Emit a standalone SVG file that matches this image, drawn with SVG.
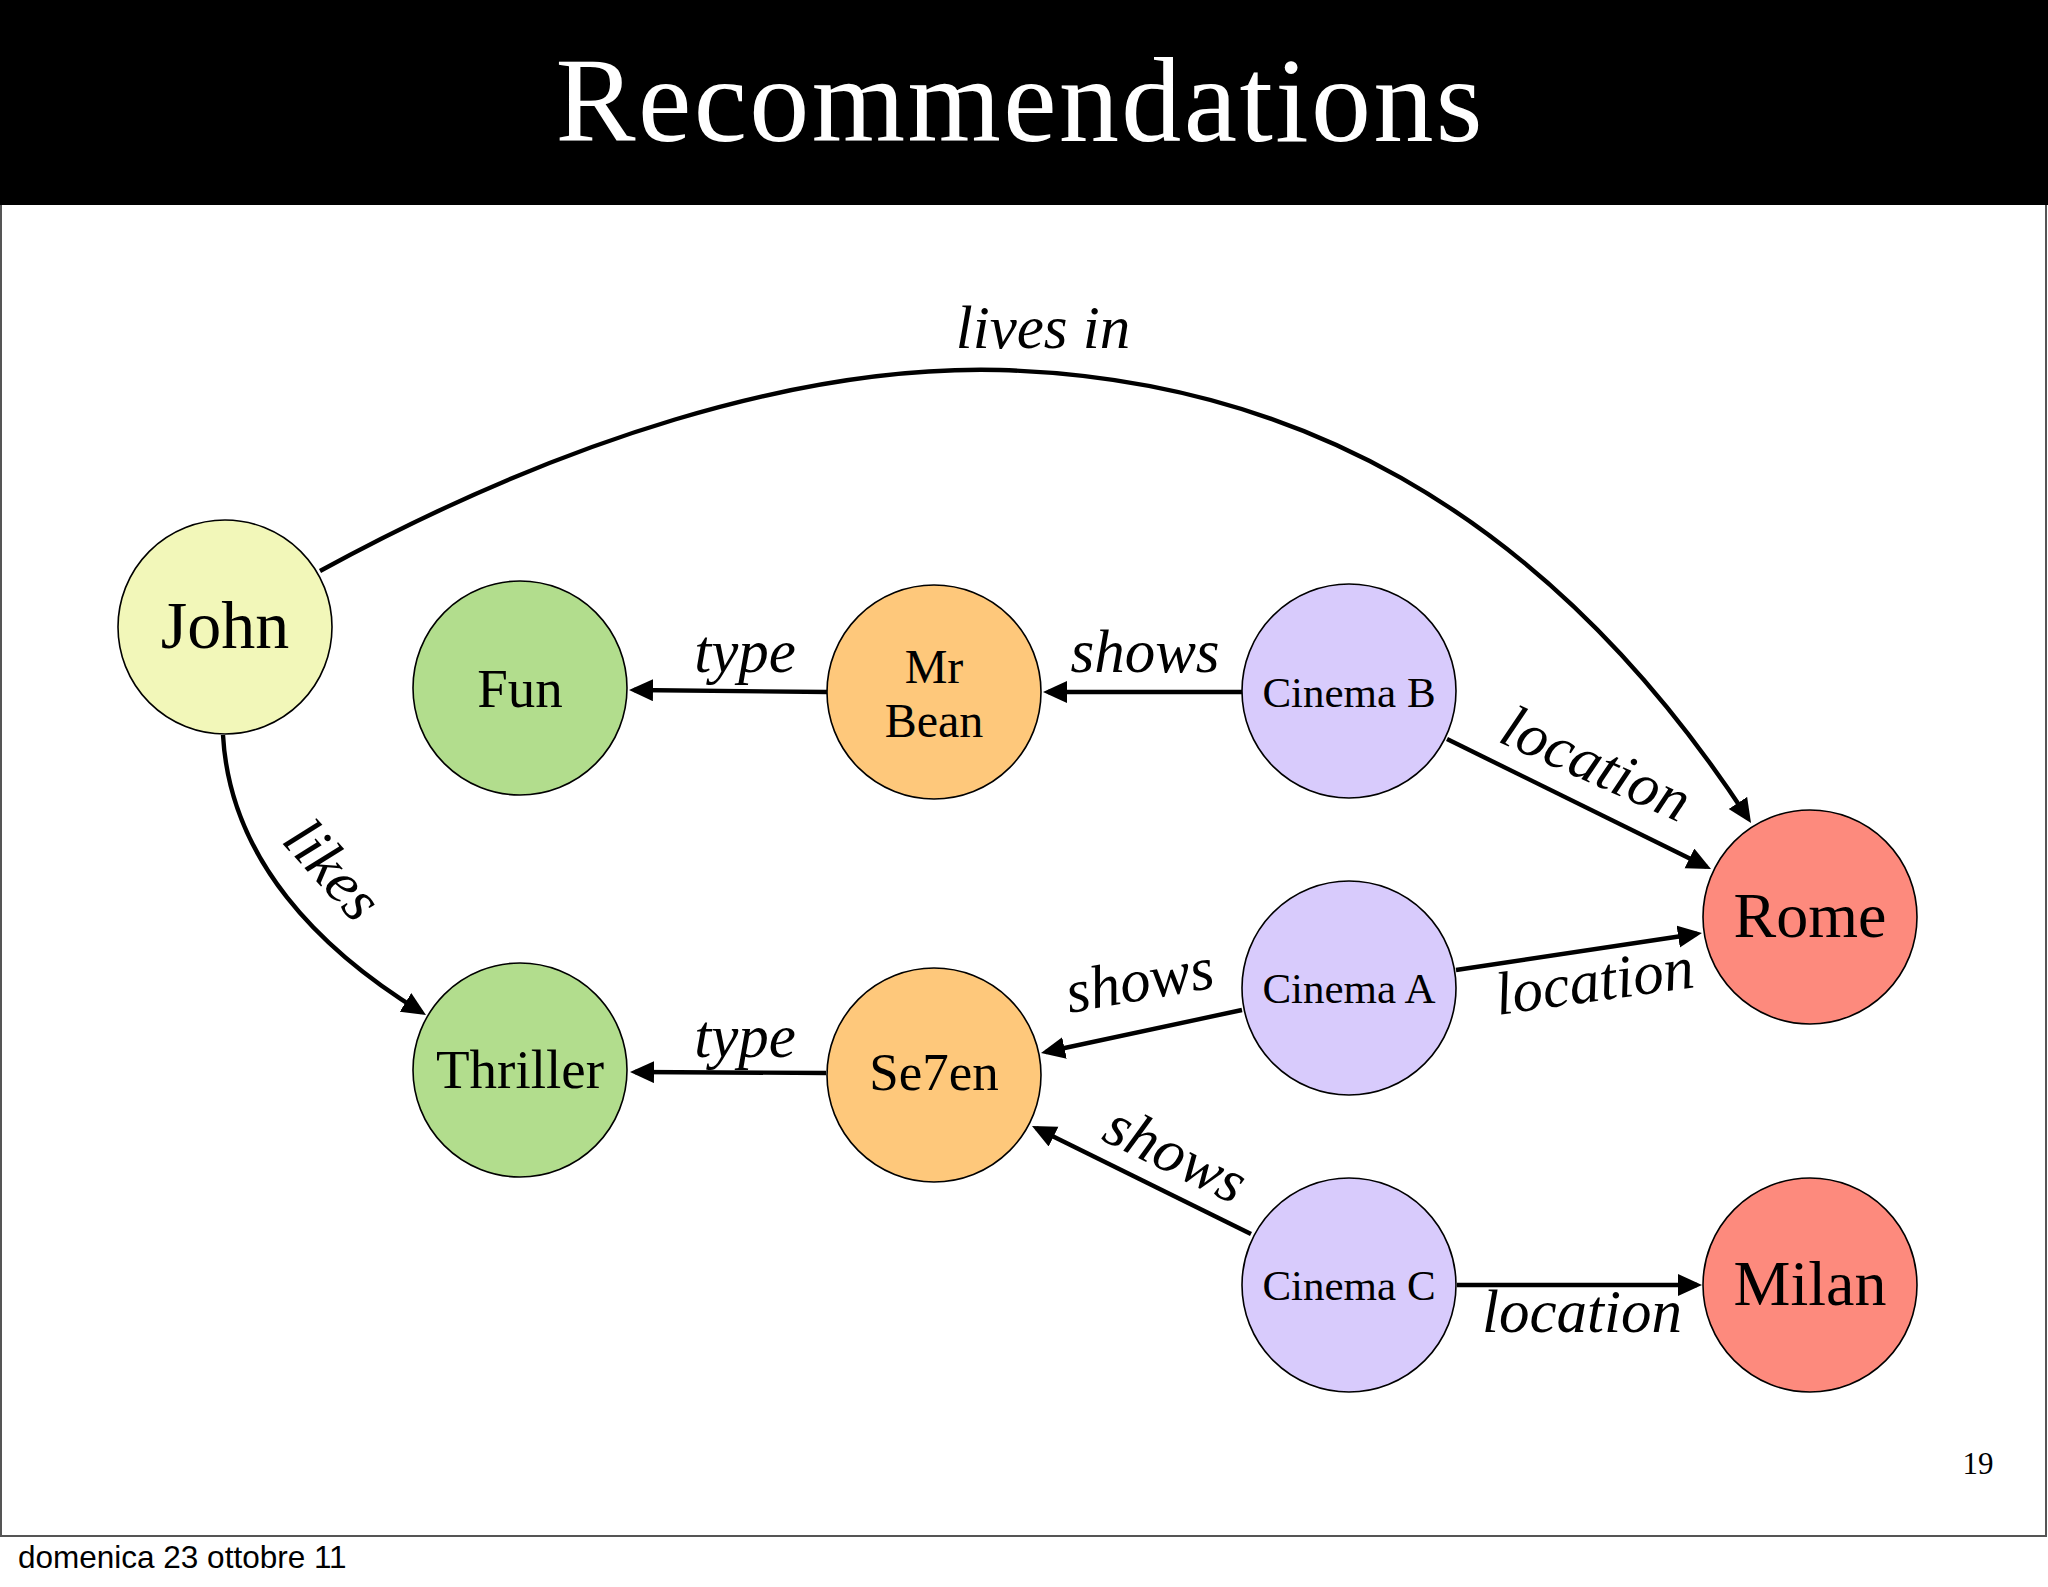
<svg xmlns="http://www.w3.org/2000/svg" width="2048" height="1587" viewBox="0 0 2048 1587">
  <style>
    .node { stroke: #000; stroke-width: 1.6; }
    .lbl { font-family: "Liberation Serif", "Times New Roman", serif; fill: #000; text-anchor: middle; }
    .elbl { font-family: "Liberation Serif", "Times New Roman", serif; font-style: italic; font-size: 61px; fill: #000; text-anchor: middle; }
    .edge { fill: none; stroke: #000; stroke-width: 4.4; }
    .yellow { fill: #f2f7b9; }
    .green { fill: #b2dd8d; }
    .orange { fill: #fec87b; }
    .lav { fill: #d8cbfc; }
    .red { fill: #fd8a7d; }
  </style>
  <defs>
    <marker id="arrow" markerUnits="userSpaceOnUse" markerWidth="26" markerHeight="24" refX="19" refY="11" orient="auto">
      <path d="M0,0 L24,11 L0,22 z" fill="#000"/>
    </marker>
  </defs>
  <rect x="0" y="0" width="2048" height="1587" fill="#fff"/>
  <rect x="1" y="1" width="2045" height="1535" fill="#fff" stroke="#555" stroke-width="2"/>
  <rect x="0" y="0" width="2048" height="205" fill="#000"/>
  <text x="1019" y="141" font-family="Liberation Serif, Times New Roman, serif" font-size="120" fill="#fff" text-anchor="middle" textLength="927" lengthAdjust="spacing">Recommendations</text>

  <g id="connectors">
    <path class="edge" d="M320,571 C560,440 800,365 1000,370 C1280,378 1540,500 1748.3,818.8" marker-end="url(#arrow)"/>
    <path class="edge" d="M223,735 C230,860 320,950 421.7,1012.4" marker-end="url(#arrow)"/>
    <path class="edge" d="M827,692 L634,690" marker-end="url(#arrow)"/>
    <path class="edge" d="M1242,692 L1048,692" marker-end="url(#arrow)"/>
    <path class="edge" d="M1447,739 L1706.5,866.8" marker-end="url(#arrow)"/>
    <path class="edge" d="M1456,970 L1697,933.7" marker-end="url(#arrow)"/>
    <path class="edge" d="M826,1073 L635,1072" marker-end="url(#arrow)"/>
    <path class="edge" d="M1242,1010 L1045.9,1052" marker-end="url(#arrow)"/>
    <path class="edge" d="M1251,1234 L1036.5,1128.2" marker-end="url(#arrow)"/>
    <path class="edge" d="M1457,1285 L1697,1285" marker-end="url(#arrow)"/>
    <text class="elbl" x="1043" y="348">lives in</text>
    <text class="elbl" transform="translate(318,883) rotate(48)">likes</text>
    <text class="elbl" x="745" y="672">type</text>
    <text class="elbl" x="1145" y="672">shows</text>
    <text class="elbl" transform="translate(1588,782) rotate(24)">location</text>
    <text class="elbl" transform="translate(1597,1001) rotate(-8)">location</text>
    <text class="elbl" x="745" y="1057">type</text>
    <text class="elbl" transform="translate(1143,1000) rotate(-10)">shows</text>
    <text class="elbl" transform="translate(1167,1172) rotate(26)">shows</text>
    <text class="elbl" x="1582" y="1332">location</text>
  </g>

  <g id="john"><circle class="node yellow" cx="225" cy="627" r="107"/><text class="lbl" x="225" y="648" font-size="68">John</text></g>
  <g id="fun"><circle class="node green" cx="520" cy="688" r="107"/><text class="lbl" x="520" y="707" font-size="55">Fun</text></g>
  <g id="mrbean"><circle class="node orange" cx="934" cy="692" r="107"/><text class="lbl" x="934" y="683" font-size="48">Mr</text><text class="lbl" x="934" y="737" font-size="48">Bean</text></g>
  <g id="cinemaB"><circle class="node lav" cx="1349" cy="691" r="107"/><text class="lbl" x="1349" y="707" font-size="43">Cinema B</text></g>
  <g id="rome"><circle class="node red" cx="1810" cy="917" r="107"/><text class="lbl" x="1810" y="937" font-size="64">Rome</text></g>
  <g id="cinemaA"><circle class="node lav" cx="1349" cy="988" r="107"/><text class="lbl" x="1349" y="1003" font-size="43">Cinema A</text></g>
  <g id="thriller"><circle class="node green" cx="520" cy="1070" r="107"/><text class="lbl" x="520" y="1088" font-size="55">Thriller</text></g>
  <g id="se7en"><circle class="node orange" cx="934" cy="1075" r="107"/><text class="lbl" x="934" y="1090" font-size="53">Se7en</text></g>
  <g id="cinemaC"><circle class="node lav" cx="1349" cy="1285" r="107"/><text class="lbl" x="1349" y="1300" font-size="43">Cinema C</text></g>
  <g id="milan"><circle class="node red" cx="1810" cy="1285" r="107"/><text class="lbl" x="1810" y="1305" font-size="64">Milan</text></g>

  <text x="1978" y="1474" font-family="Liberation Serif, Times New Roman, serif" font-size="31" text-anchor="middle" fill="#000">19</text>
  <text x="18" y="1568" font-family="Liberation Sans, Arial, sans-serif" font-size="31.5" fill="#000">domenica 23 ottobre 11</text>
</svg>
